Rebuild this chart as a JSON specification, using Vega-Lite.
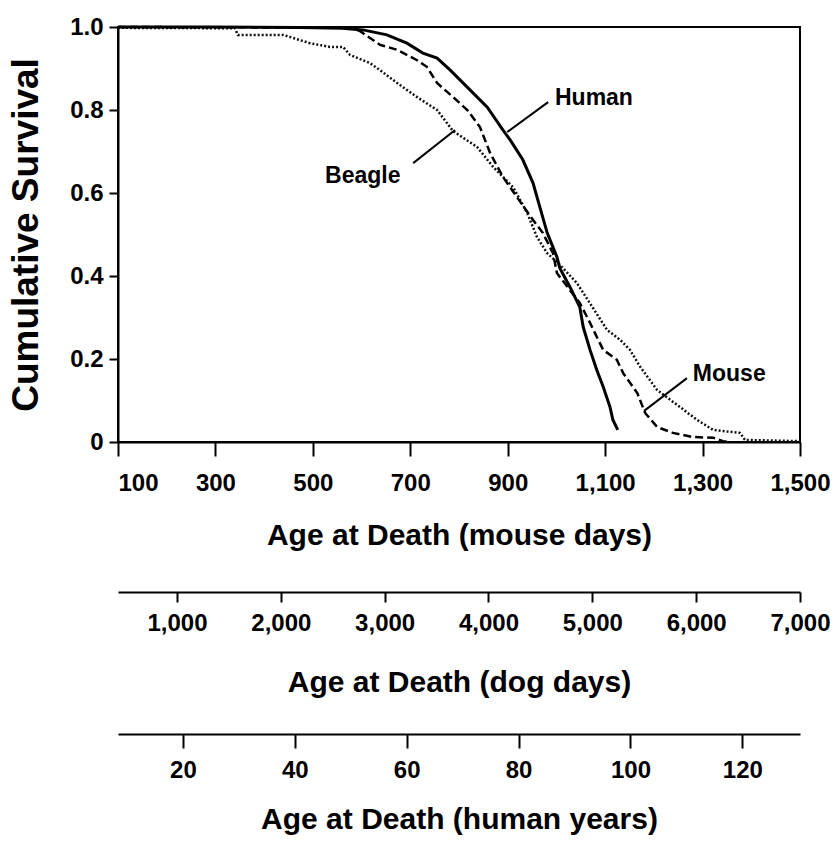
{
  "$schema": "https://vega.github.io/schema/vega-lite/v6.json",
  "width": 682,
  "height": 415,
  "autosize": {"type": "none"},
  "padding": {"left": 118, "top": 27, "right": 35, "bottom": 399},
  "background": "white",
  "config": {
    "view": {"stroke": "black", "strokeWidth": 2},
    "font": "Liberation Sans, sans-serif",
    "axis": {
      "grid": false,
      "domainColor": "black",
      "domainWidth": 2,
      "tickColor": "black",
      "tickWidth": 2,
      "labelColor": "black",
      "titleColor": "black",
      "labelFont": "Liberation Sans, sans-serif",
      "titleFont": "Liberation Sans, sans-serif",
      "labelFontWeight": "bold",
      "titleFontWeight": "bold",
      "labelFontSize": 24,
      "titleFontSize": 30
    }
  },
  "datasets": {
    "survival": [
      {"species": "Human", "age": 100, "survival": 1.0},
      {"species": "Human", "age": 300, "survival": 1.0},
      {"species": "Human", "age": 474, "survival": 0.999},
      {"species": "Human", "age": 560, "survival": 0.997},
      {"species": "Human", "age": 603, "survival": 0.993},
      {"species": "Human", "age": 652, "survival": 0.981},
      {"species": "Human", "age": 693, "survival": 0.961},
      {"species": "Human", "age": 726, "survival": 0.937},
      {"species": "Human", "age": 755, "survival": 0.925},
      {"species": "Human", "age": 782, "survival": 0.896},
      {"species": "Human", "age": 823, "survival": 0.848},
      {"species": "Human", "age": 858, "survival": 0.807},
      {"species": "Human", "age": 890, "survival": 0.752},
      {"species": "Human", "age": 905, "survival": 0.728},
      {"species": "Human", "age": 931, "survival": 0.680},
      {"species": "Human", "age": 952, "survival": 0.624},
      {"species": "Human", "age": 966, "survival": 0.566},
      {"species": "Human", "age": 981, "survival": 0.504},
      {"species": "Human", "age": 1001, "survival": 0.446},
      {"species": "Human", "age": 1007, "survival": 0.419},
      {"species": "Human", "age": 1028, "survival": 0.373},
      {"species": "Human", "age": 1048, "survival": 0.325},
      {"species": "Human", "age": 1055, "survival": 0.277},
      {"species": "Human", "age": 1069, "survival": 0.222},
      {"species": "Human", "age": 1083, "survival": 0.173},
      {"species": "Human", "age": 1096, "survival": 0.133},
      {"species": "Human", "age": 1110, "survival": 0.084},
      {"species": "Human", "age": 1116, "survival": 0.053},
      {"species": "Human", "age": 1126, "survival": 0.029},
      {"species": "Mouse", "age": 100, "survival": 1.0},
      {"species": "Mouse", "age": 400, "survival": 0.999},
      {"species": "Mouse", "age": 576, "survival": 0.998},
      {"species": "Mouse", "age": 597, "survival": 0.990},
      {"species": "Mouse", "age": 638, "survival": 0.957},
      {"species": "Mouse", "age": 673, "survival": 0.945},
      {"species": "Mouse", "age": 714, "survival": 0.920},
      {"species": "Mouse", "age": 734, "survival": 0.904},
      {"species": "Mouse", "age": 755, "survival": 0.865},
      {"species": "Mouse", "age": 788, "survival": 0.831},
      {"species": "Mouse", "age": 817, "survival": 0.800},
      {"species": "Mouse", "age": 843, "survival": 0.759},
      {"species": "Mouse", "age": 864, "survival": 0.696},
      {"species": "Mouse", "age": 890, "survival": 0.639},
      {"species": "Mouse", "age": 919, "survival": 0.590},
      {"species": "Mouse", "age": 952, "survival": 0.535},
      {"species": "Mouse", "age": 972, "survival": 0.504},
      {"species": "Mouse", "age": 993, "survival": 0.455},
      {"species": "Mouse", "age": 1001, "survival": 0.407},
      {"species": "Mouse", "age": 1048, "survival": 0.335},
      {"species": "Mouse", "age": 1069, "survival": 0.287},
      {"species": "Mouse", "age": 1083, "survival": 0.253},
      {"species": "Mouse", "age": 1096, "survival": 0.222},
      {"species": "Mouse", "age": 1124, "survival": 0.198},
      {"species": "Mouse", "age": 1137, "survival": 0.166},
      {"species": "Mouse", "age": 1166, "survival": 0.118},
      {"species": "Mouse", "age": 1182, "survival": 0.070},
      {"species": "Mouse", "age": 1207, "survival": 0.036},
      {"species": "Mouse", "age": 1239, "survival": 0.022},
      {"species": "Mouse", "age": 1280, "survival": 0.012},
      {"species": "Mouse", "age": 1322, "survival": 0.010},
      {"species": "Mouse", "age": 1342, "survival": 0.002},
      {"species": "Mouse", "age": 1356, "survival": 0.0},
      {"species": "Beagle", "age": 100, "survival": 0.998},
      {"species": "Beagle", "age": 340, "survival": 0.997},
      {"species": "Beagle", "age": 346, "survival": 0.981},
      {"species": "Beagle", "age": 439, "survival": 0.981},
      {"species": "Beagle", "age": 494, "survival": 0.961},
      {"species": "Beagle", "age": 535, "survival": 0.952},
      {"species": "Beagle", "age": 562, "survival": 0.952},
      {"species": "Beagle", "age": 576, "survival": 0.933},
      {"species": "Beagle", "age": 617, "survival": 0.913},
      {"species": "Beagle", "age": 638, "survival": 0.896},
      {"species": "Beagle", "age": 673, "survival": 0.865},
      {"species": "Beagle", "age": 714, "survival": 0.831},
      {"species": "Beagle", "age": 755, "survival": 0.800},
      {"species": "Beagle", "age": 788, "survival": 0.749},
      {"species": "Beagle", "age": 837, "survival": 0.711},
      {"species": "Beagle", "age": 870, "survival": 0.663},
      {"species": "Beagle", "age": 911, "survival": 0.614},
      {"species": "Beagle", "age": 940, "survival": 0.552},
      {"species": "Beagle", "age": 960, "survival": 0.494},
      {"species": "Beagle", "age": 981, "survival": 0.455},
      {"species": "Beagle", "age": 1007, "survival": 0.427},
      {"species": "Beagle", "age": 1042, "survival": 0.383},
      {"species": "Beagle", "age": 1075, "survival": 0.323},
      {"species": "Beagle", "age": 1104, "survival": 0.270},
      {"species": "Beagle", "age": 1131, "survival": 0.246},
      {"species": "Beagle", "age": 1151, "survival": 0.222},
      {"species": "Beagle", "age": 1172, "survival": 0.181},
      {"species": "Beagle", "age": 1207, "survival": 0.125},
      {"species": "Beagle", "age": 1254, "survival": 0.084},
      {"species": "Beagle", "age": 1289, "survival": 0.053},
      {"species": "Beagle", "age": 1322, "survival": 0.029},
      {"species": "Beagle", "age": 1377, "survival": 0.022},
      {"species": "Beagle", "age": 1387, "survival": 0.005},
      {"species": "Beagle", "age": 1500, "survival": 0.002}
    ],
    "labels": [
      {"label": "Human", "age": 997, "survival": 0.829},
      {"label": "Beagle", "age": 525, "survival": 0.641},
      {"label": "Mouse", "age": 1280, "survival": 0.165}
    ],
    "leaders": [
      {"label": "Human", "age": 899, "survival": 0.747, "age2": 983, "survival2": 0.819},
      {"label": "Beagle", "age": 706, "survival": 0.672, "age2": 792, "survival2": 0.752},
      {"label": "Mouse", "age": 1180, "survival": 0.075, "age2": 1268, "survival2": 0.154}
    ],
    "dog": [
      {"dog_days": 1000}, {"dog_days": 7000}
    ],
    "human": [
      {"human_years": 20}, {"human_years": 120}
    ]
  },
  "layer": [
    {
      "layer": [
        {
          "data": {"name": "survival"},
          "transform": [{"filter": "datum.species == 'Beagle'"}],
          "mark": {"type": "line", "color": "#111111", "strokeWidth": 2.5, "strokeDash": [2, 2]},
          "encoding": {
            "x": {
              "field": "age", "type": "quantitative",
              "scale": {"domain": [100, 1500], "nice": false, "zero": false},
              "axis": {
                "orient": "bottom",
                "title": "Age at Death (mouse days)",
                "values": [100, 300, 500, 700, 900, 1100, 1300, 1500],
                "format": ",.0f",
                "tickSize": 14,
                "labelPadding": 15,
                "titlePadding": 25,
                "labelFlush": false,
                "labelAlign": {"condition": {"test": "datum.value == 100", "value": "left"}, "value": "center"}
              }
            },
            "y": {
              "field": "survival", "type": "quantitative",
              "scale": {"domain": [0, 1], "nice": false},
              "axis": {
                "title": "Cumulative Survival",
                "values": [0, 0.2, 0.4, 0.6, 0.8, 1],
                "labelExpr": "datum.value == 0 ? '0' : format(datum.value, '.1f')",
                "tickSize": 9,
                "labelPadding": 6,
                "titleFontSize": 37,
                "titlePadding": 24
              }
            }
          }
        },
        {
          "data": {"name": "survival"},
          "transform": [{"filter": "datum.species == 'Mouse'"}],
          "mark": {"type": "line", "color": "black", "strokeWidth": 2.5, "strokeDash": [8, 4]},
          "encoding": {
            "x": {"field": "age", "type": "quantitative"},
            "y": {"field": "survival", "type": "quantitative"}
          }
        },
        {
          "data": {"name": "survival"},
          "transform": [{"filter": "datum.species == 'Human'"}],
          "mark": {"type": "line", "color": "black", "strokeWidth": 3},
          "encoding": {
            "x": {"field": "age", "type": "quantitative"},
            "y": {"field": "survival", "type": "quantitative"}
          }
        },
        {
          "data": {"name": "leaders"},
          "mark": {"type": "rule", "color": "black", "strokeWidth": 2},
          "encoding": {
            "x": {"field": "age", "type": "quantitative"},
            "y": {"field": "survival", "type": "quantitative"},
            "x2": {"field": "age2"},
            "y2": {"field": "survival2"}
          }
        },
        {
          "data": {"name": "labels"},
          "mark": {"type": "text", "align": "left", "baseline": "middle", "fontSize": 23, "fontWeight": "bold", "color": "black", "font": "Liberation Sans, sans-serif"},
          "encoding": {
            "x": {"field": "age", "type": "quantitative"},
            "y": {"field": "survival", "type": "quantitative"},
            "text": {"field": "label"}
          }
        }
      ]
    },
    {
      "data": {"name": "dog"},
      "mark": {"type": "point", "opacity": 0},
      "encoding": {
        "x": {
          "field": "dog_days", "type": "quantitative",
          "scale": {"domain": [432, 7000], "nice": false, "zero": false},
          "axis": {
            "orient": "bottom",
            "offset": 150,
            "title": "Age at Death (dog days)",
            "values": [1000, 2000, 3000, 4000, 5000, 6000, 7000],
            "format": ",.0f",
            "tickSize": 10,
            "labelPadding": 9,
            "titlePadding": 32,
            "labelFlush": false
          }
        }
      }
    },
    {
      "data": {"name": "human"},
      "mark": {"type": "point", "opacity": 0},
      "encoding": {
        "x": {
          "field": "human_years", "type": "quantitative",
          "scale": {"domain": [8.4, 130.3], "nice": false, "zero": false},
          "axis": {
            "orient": "bottom",
            "offset": 292,
            "title": "Age at Death (human years)",
            "values": [20, 40, 60, 80, 100, 120],
            "tickSize": 14,
            "labelPadding": 10,
            "titlePadding": 22,
            "labelFlush": false
          }
        }
      }
    }
  ],
  "resolve": {"scale": {"x": "independent"}}
}
